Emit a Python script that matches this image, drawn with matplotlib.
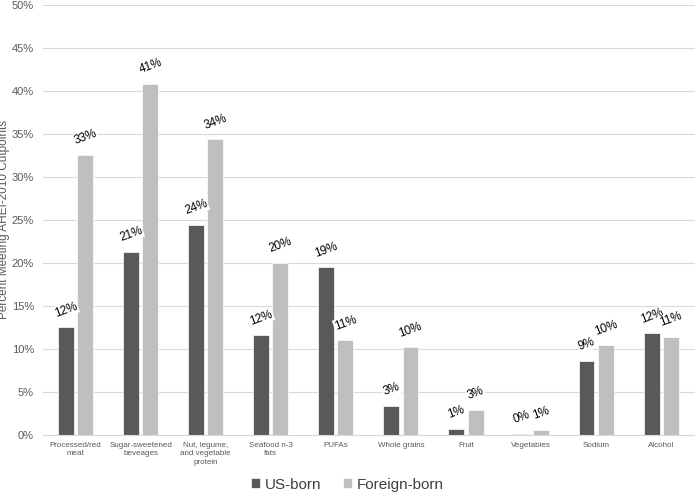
import numpy as np
import matplotlib.pyplot as plt
from matplotlib.ticker import FuncFormatter

plt.rcParams['font.family'] = ['Liberation Sans', 'DejaVu Sans']

categories = ['Processed/red\nmeat', 'Sugar-sweetened\nbeveages', 'Nut, legume,\nand vegetable\nprotein',
              'Seafood n-3\nfats', 'PUFAs', 'Whole grains', 'Fruit', 'Vegetables', 'Sodium', 'Alcohol']
us_born = [12.5, 21.3, 24.4, 11.6, 19.5, 3.4, 0.7, 0.1, 8.6, 11.8]
foreign_born = [32.6, 40.8, 34.4, 20.0, 11.0, 10.2, 2.9, 0.6, 10.4, 11.4]
us_labels = ['12%', '21%', '24%', '12%', '19%', '3%', '1%', '0%', '9%', '12%']
foreign_labels = ['33%', '41%', '34%', '20%', '11%', '10%', '3%', '1%', '10%', '11%']

fig = plt.figure(figsize=(6.95, 4.93), dpi=100)
ax = fig.add_axes([0.062, 0.118, 0.938, 0.872])

index = np.arange(len(categories))
bar_width = 0.245
gap = 0.05
b1 = ax.bar(index - bar_width / 2 - gap / 2, us_born, bar_width, color='#595959',
            edgecolor='white', linewidth=0.5, label='US-born', zorder=2)
b2 = ax.bar(index + bar_width / 2 + gap / 2, foreign_born, bar_width, color='#bfbfbf',
            edgecolor='white', linewidth=0.5, label='Foreign-born', zorder=2)

for bars, vals, labs in [(b1, us_born, us_labels), (b2, foreign_born, foreign_labels)]:
    for r, v, t in zip(bars, vals, labs):
        ax.text(r.get_x() + r.get_width() / 2, v + 0.9, t,
                rotation=20, ha='center', va='bottom', fontsize=8.5, color='black',
                bbox=dict(facecolor='white', edgecolor='none', pad=0.5), zorder=3)

ax.set_ylim(0, 50)
ax.set_xlim(-0.5, len(categories) - 0.48)
ax.set_yticks(np.arange(0, 51, 5))
ax.yaxis.set_major_formatter(FuncFormatter(lambda y, p: '%d%%' % y))
ax.grid(axis='y', color='#d9d9d9', linewidth=0.8, zorder=0)
ax.set_xticks(index)
ax.set_xticklabels(categories, fontsize=5.8, color='#595959', linespacing=1.3)
ax.tick_params(axis='y', labelsize=8, labelcolor='#595959', length=0, pad=6.5)
ax.tick_params(axis='x', length=0, pad=5)
for s in ['top', 'right', 'left']:
    ax.spines[s].set_visible(False)
ax.spines['bottom'].set_color('#d9d9d9')
ax.set_ylabel('Percent Meeting AHEI-2010 Cutpoints', fontsize=8.5, color='#595959')
ax.yaxis.set_label_coords(-0.05, 0.5)

fig.legend(loc='center', bbox_to_anchor=(0.5, 0.017), ncol=2, frameon=False,
           fontsize=11, handlelength=0.6, handleheight=0.6, handletextpad=0.3,
           columnspacing=1.4, labelcolor='#404040')

plt.savefig('out.png', dpi=100)
